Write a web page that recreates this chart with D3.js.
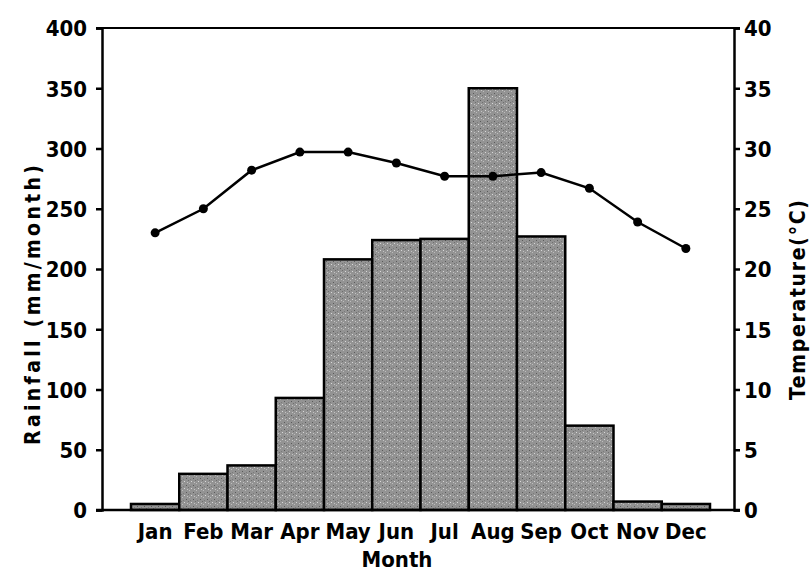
<!DOCTYPE html>
<html>
<head>
<meta charset="utf-8">
<script src="https://cdn.jsdelivr.net/npm/d3@7"></script>
<style>
  body { margin: 0; background: #fff; }
  text { font-family: "DejaVu Sans Condensed", "Liberation Sans Narrow", sans-serif; font-weight: bold; fill: #000; }
</style>
</head>
<body>
<svg id="chart" width="812" height="571"></svg>
<script>
// data
const months = ['Jan','Feb','Mar','Apr','May','Jun','Jul','Aug','Sep','Oct','Nov','Dec'];
const rainfall = [5, 30, 37, 93, 208, 224, 225, 350, 227, 70, 7, 5];
const temperature = [23.0, 25.0, 28.2, 29.7, 29.7, 28.8, 27.7, 27.7, 28.0, 26.7, 23.9, 21.7];
const rainTicks = [0, 50, 100, 150, 200, 250, 300, 350, 400];
const tempTicks = [0, 5, 10, 15, 20, 25, 30, 35, 40];

const W = 812, H = 571;
const margin = {top: 28, right: 78, bottom: 61, left: 102};
const x0 = margin.left, x1 = W - margin.right;
const y0 = H - margin.bottom, y1 = margin.top;

const svg = d3.select('#chart');

// stipple texture for the bars (grey checker with sparse specks)
const pat = svg.append('defs').append('pattern')
  .attr('id', 'stipple')
  .attr('patternUnits', 'userSpaceOnUse')
  .attr('width', 7).attr('height', 7);
pat.append('rect').attr('width', 7).attr('height', 7).attr('fill', '#939393');
[[0,0,'#bdbdbd'],[4,2,'#5a5a5a'],[2,5,'#d8d8d8'],[6,4,'#6e6e6e'],[5,6,'#c4c4c4'],[1,3,'#7a7a7a']].forEach(p => {
  pat.append('rect').attr('x', p[0]).attr('y', p[1]).attr('width', 1).attr('height', 1).attr('fill', p[2]);
});

const x = d3.scaleBand()
  .domain(months)
  .range([x0 + 29, x1 - 24])
  .padding(0);

const yRain = d3.scaleLinear().domain([0, 400]).range([y0, y1]);
const yTemp = d3.scaleLinear().domain([0, 40]).range([y0, y1]);

// bars
svg.append('g')
  .selectAll('rect')
  .data(rainfall)
  .enter()
  .append('rect')
  .attr('x', (d, i) => x(months[i]))
  .attr('y', d => yRain(d))
  .attr('width', x.bandwidth())
  .attr('height', d => yRain(0) - yRain(d))
  .attr('fill', 'url(#stipple)')
  .attr('stroke', '#000')
  .attr('stroke-width', 2.5);

// temperature line
const line = d3.line()
  .x((d, i) => x(months[i]) + x.bandwidth() / 2)
  .y(d => yTemp(d));

svg.append('path')
  .datum(temperature)
  .attr('d', line)
  .attr('fill', 'none')
  .attr('stroke', '#000')
  .attr('stroke-width', 2.5);

svg.append('g')
  .selectAll('circle')
  .data(temperature)
  .enter()
  .append('circle')
  .attr('cx', (d, i) => x(months[i]) + x.bandwidth() / 2)
  .attr('cy', d => yTemp(d))
  .attr('r', 4.5)
  .attr('fill', '#000');

// frame: top and bottom lines
svg.append('line')
  .attr('x1', x0 - 6).attr('x2', x1 + 6)
  .attr('y1', y1).attr('y2', y1)
  .attr('stroke', '#000').attr('stroke-width', 2);
svg.append('line')
  .attr('x1', x0 - 6).attr('x2', x1 + 6)
  .attr('y1', y0).attr('y2', y0)
  .attr('stroke', '#000').attr('stroke-width', 2.5);

// left axis
const leftAxis = svg.append('g')
  .attr('transform', `translate(${x0},0)`)
  .call(d3.axisLeft(yRain).tickValues(rainTicks).tickSize(6).tickPadding(9).tickFormat(d3.format('d')));

// right axis
const rightAxis = svg.append('g')
  .attr('transform', `translate(${x1},0)`)
  .call(d3.axisRight(yTemp).tickValues(tempTicks).tickSize(6).tickPadding(4).tickFormat(d3.format('d')));

[leftAxis, rightAxis].forEach(g => {
  g.select('.domain').attr('stroke', '#000').attr('stroke-width', 2.5);
  g.selectAll('.tick line').attr('stroke', '#000').attr('stroke-width', 2.5);
  g.selectAll('.tick text').style('font-size', '22px').attr('dy', '0.36em');
});

// month labels
svg.append('g')
  .selectAll('text')
  .data(months)
  .enter()
  .append('text')
  .attr('x', d => x(d) + x.bandwidth() / 2)
  .attr('y', y0 + 29)
  .attr('text-anchor', 'middle')
  .style('font-size', '22px')
  .text(d => d);

// axis titles
svg.append('text')
  .attr('x', 397)
  .attr('y', H - 4)
  .attr('text-anchor', 'middle')
  .style('font-size', '22px')
  .text('Month');

svg.append('text')
  .attr('transform', `translate(40,305) rotate(-90)`)
  .attr('text-anchor', 'middle')
  .attr('textLength', 280)
  .attr('lengthAdjust', 'spacing')
  .style('font-size', '21px')
  .text('Rainfall (mm/month)');

svg.append('text')
  .attr('transform', `translate(805,300) rotate(-90)`)
  .attr('text-anchor', 'middle')
  .attr('textLength', 200)
  .attr('lengthAdjust', 'spacing')
  .style('font-size', '21px')
  .text('Temperature(°C)');
</script>
</body>
</html>
